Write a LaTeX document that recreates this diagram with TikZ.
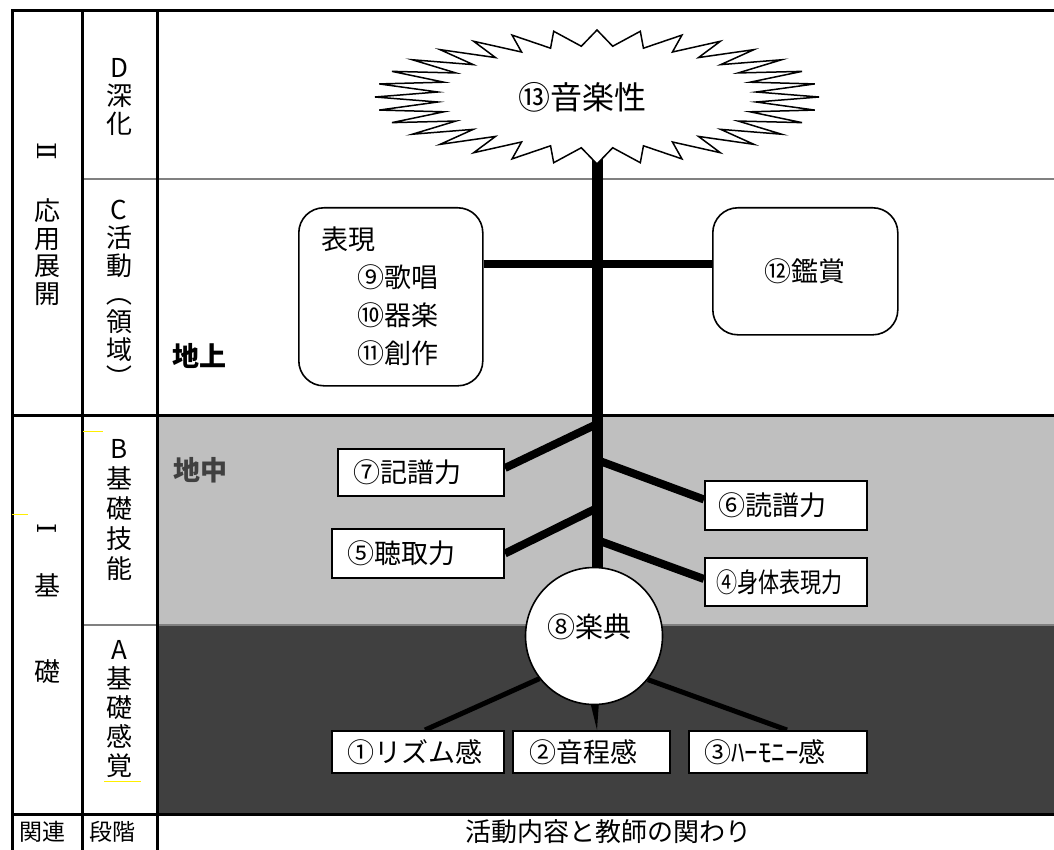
\documentclass[tikz,border=0pt]{standalone}
\usepackage{fontspec}
\setmainfont{Noto Sans CJK JP}
\newfontfamily\romfont{DejaVu Serif}
\usepackage{graphicx}
\definecolor{lgray}{HTML}{BFBFBF}
\definecolor{dgray}{HTML}{404040}
\definecolor{lineg}{HTML}{808080}
\definecolor{yel}{HTML}{FFEE00}
\newcommand{\myfs}[1]{\fontsize{#1pt}{#1pt}\selectfont}
\newcommand{\myfsb}[2]{\fontsize{#1pt}{#2pt}\selectfont}
\pgfdeclarelayer{bglayer}
\pgfdeclarelayer{linelayer}
\pgfsetlayers{bglayer,linelayer,main}
\tikzset{
  tbox/.style={draw, fill=white, line width=2pt, inner xsep=15pt, inner ysep=0pt, align=left, anchor=north west, font=\myfs{27}},
  rrbox/.style={draw, fill=white, line width=1.6pt, rounded corners=25pt, anchor=north west},
  gline/.style={draw=lineg, line width=2.5pt},
  bline/.style={draw=black, line width=3pt},
  trunkline/.style={line width=11pt},
  branchline/.style={line width=8pt},
  rootline/.style={line width=5pt},
  vtext/.style={align=center, inner sep=0pt},
  plain/.style={inner sep=0pt},
  burstshape/.style={draw=black, fill=white, line width=1.5pt, line join=miter},
  yline/.style={draw=yel, line width=1pt},
}
\begin{document}
\begin{tikzpicture}[x=1pt,y=-1pt]
\useasboundingbox (0,0) rectangle (1054,850);
\begin{pgfonlayer}{bglayer}
\fill[white] (0,0) rectangle (1054,850);
\fill[lgray] (157,415) rectangle (1054,625);
\fill[dgray] (157,625) rectangle (1054,814);
\draw[gline] (82,179) -- (1054,179);
\draw[gline] (82,625) -- (1054,625);
\draw[bline] (12,11) -- (1054,11);
\draw[bline] (12,9.5) -- (12,850);
\draw[bline] (82,11) -- (82,850);
\draw[bline] (157,11) -- (157,850);
\draw[bline] (12,415) -- (1054,415);
\draw[bline] (12,814) -- (1054,814);
\draw[yline] (83,431) -- (103,431);
\draw[yline] (12,514) -- (28,514);
\draw[yline] (104,781) -- (141,781);
\end{pgfonlayer}

% left columns
\node[plain, font=\romfont\myfs{26}] (IIlab) at (47,152) {\rotatebox[origin=c]{-90}{Ⅱ}};
\node[vtext, font=\myfsb{26}{27.5}] (Oulab) at (47,252) {応\\用\\展\\開};
\node[plain, font=\romfont\myfs{26}] (Ilab) at (47,531) {\rotatebox[origin=c]{-90}{Ⅰ}};
\node[plain, font=\myfs{26}] (kiso1) at (47,585) {基};
\node[plain, font=\myfs{26}] (kiso2) at (47,672) {礎};
\node[vtext, font=\myfsb{26}{28}] (Dlab) at (119,97) {D\\深\\化};
\node[vtext, font=\myfsb{26}{28}] (Clab) at (119,295) {C\\活\\動\\\rotatebox[origin=c]{-90}{（}\\領\\域\\\rotatebox[origin=c]{-90}{）}};
\node[vtext, font=\myfsb{26}{30}] (Blab) at (119,510) {B\\基\\礎\\技\\能};
\node[vtext, font=\myfsb{26}{29}] (Alab) at (119,709) {A\\基\\礎\\感\\覚};
\node[plain, font=\myfs{23}] (kanren) at (42,832) {関連};
\node[plain, font=\myfs{23}] (dankai) at (112,832) {段階};
\node[plain, font=\myfs{26}] (katsudo) at (608,832) {活動内容と教師の関わり};
\node[plain, font=\bfseries\myfs{27}] (chijo) at (199,356) {地上};
\node[plain, font=\bfseries\myfs{27}, text=dgray] (chichu) at (200,470) {地中};

% boxes
\coordinate (burst) at (597,97);
\node[rrbox, minimum width=184pt, minimum height=178pt] (hyogen) at (298,207) {};
\node[plain, font=\myfsb{27}{38}, align=left, anchor=west] (hyogent) at (321,296) {表現\\\hspace*{36pt}⑨歌唱\\\hspace*{36pt}⑩器楽\\\hspace*{36pt}⑪創作};
\node[rrbox, minimum width=185pt, minimum height=127pt, font=\myfs{27}] (kansho) at (712,207) {⑫鑑賞};
\node[tbox, text width=136pt, minimum height=47pt] (box7) at (337,448) {⑦記譜力};
\node[tbox, inner xsep=13pt, text width=136pt, minimum height=49pt] (box6) at (704,480) {⑥読譜力};
\node[tbox, text width=142pt, minimum height=49pt] (box5) at (331,528) {⑤聴取力};
\node[tbox, inner xsep=11pt, text width=140pt, minimum height=48pt] (box4) at (704,557) {\scalebox{0.78}[1]{④身体表現力}};
\node[tbox, text width=142pt, minimum height=42pt] (box1) at (331,730) {①リズム感};
\node[tbox, inner xsep=16pt, text width=125pt, minimum height=42pt] (box2) at (512,730) {②音程感};
\node[tbox, text width=148pt, minimum height=42pt] (box3) at (688,730) {③ﾊｰﾓﾆｰ感};
\node[circle, draw, fill=white, line width=1.6pt, minimum size=137pt, inner sep=0pt] (circ) at (594,636) {};
\node[plain, font=\myfs{28}] (gakuten) at (589,627) {⑧楽典};

% burst
\draw[burstshape] (819,97) \foreach \i [evaluate=\i as \burx using {isodd(\i)?160:222}, evaluate=\i as \bury using {isodd(\i)?51:67}] in {1,...,63} { -- ({597+\burx*cos(\i*5.625)},{97-\bury*sin(\i*5.625)}) } -- cycle;
\node[plain, font=\myfs{32}] (ongaku) at (582,97) {⑬音楽性};

% connectors
\coordinate (j7) at (597,424);
\coordinate (j6) at (597,460);
\coordinate (j5) at (597,508);
\coordinate (j4) at (597,540);
\coordinate (hb) at (597,264);
\begin{pgfonlayer}{linelayer}
\draw[trunkline] (burst) -- (burst |- circ);
\draw[branchline] (hb -| hyogen.east) -- (hb -| kansho.west);
\draw[branchline] ([yshift=4.5pt]box7.east) -- (j7);
\draw[branchline] (j6) -- ([yshift=6pt]box6.west);
\draw[branchline] (box5.east) -- (j5);
\draw[branchline] (j4) -- ([yshift=3pt]box4.west);
\draw[rootline] (circ.218) -- ([xshift=7pt]box1.north);
\draw[rootline] (circ.-39) -- ([xshift=9pt]box3.north);
\fill ([xshift=-4pt,yshift=4pt]circ.south) -- ([xshift=5pt,yshift=4pt]circ.south) -- ([xshift=3pt]circ.south |- box2.north) -- cycle;
\end{pgfonlayer}
\end{tikzpicture}
\end{document}
